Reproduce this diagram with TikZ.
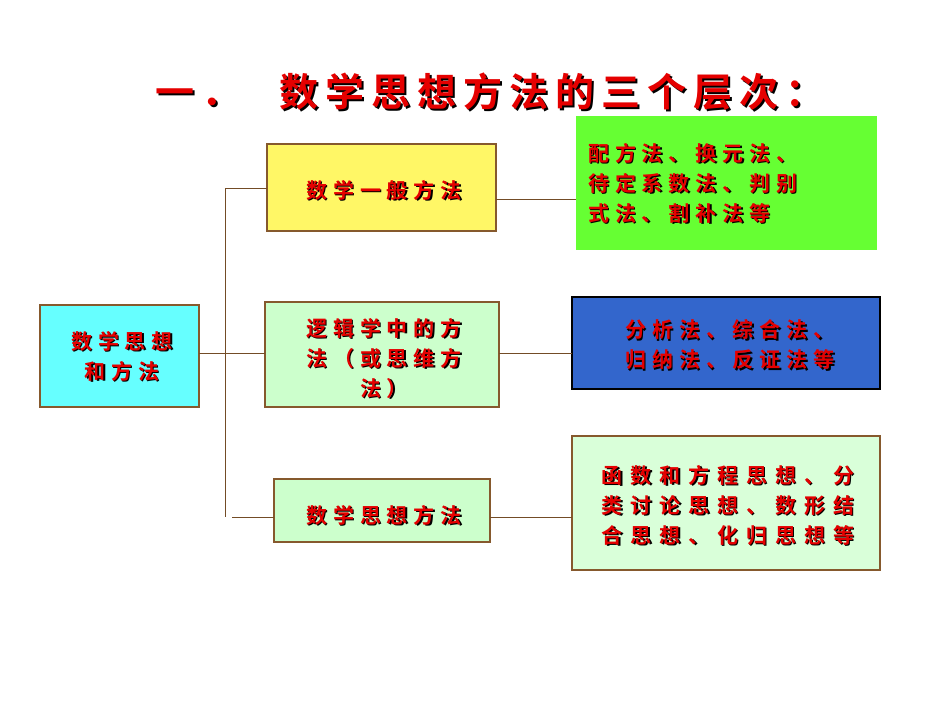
\documentclass[tikz,border=0pt]{standalone}
\usepackage{fontspec}
\newfontfamily\cjk[LetterSpace=28]{Noto Sans CJK SC Bold}
\newfontfamily\cjkr[LetterSpace=38]{Noto Sans CJK SC Bold}
\newfontfamily\cjkt[LetterSpace=18]{Noto Sans CJK SC Bold}
\tikzset{
 box/.style={draw=brown!70!black, line width=1.2pt},
 conn/.style={draw=brown!60!black, line width=1pt},
 lbl/.style={font=\cjk\fontsize{21}{30}\selectfont, align=center, inner sep=0pt},
}
\newcommand\stxt[5][center]{%
 \node[lbl, align=#1, text=black, anchor=#2] at ([shift={(1.5,1.5)}]#3) {#5};
 \node[lbl, align=#1, text=red!90!black, anchor=#2] (#4) at (#3) {#5};}
\begin{document}
\begin{tikzpicture}[x=1pt,y=-1pt]
\useasboundingbox (0,0) rectangle (950,713);
\fill[white] (0,0) rectangle (950,713);
% boxes
\draw[box, fill={rgb,255:red,102;green,255;blue,255}] (40,305) rectangle (199,407);
\coordinate (L) at (122,356);
\draw[box, fill=yellow!60] (267,144) rectangle (496,231);
\coordinate (A) at (384,190);
\draw[box, fill=green!20] (265,302) rectangle (499,407);
\coordinate (B) at (384,358);
\draw[box, fill=green!20] (274,479) rectangle (490,542);
\coordinate (C) at (384,515);
\draw[box, draw=none, fill={rgb,255:red,102;green,255;blue,51}] (576,116) rectangle (877,250);
\coordinate (R1) at (588,183);
\draw[box, draw=black, fill={rgb,255:red,51;green,102;blue,204}] (572,297) rectangle (880,389);
\coordinate (R2) at (730,345);
\draw[box, fill=green!15] (572,436) rectangle (880,570);
\coordinate (R3) at (728,505);
% connectors
\coordinate (v1) at (225,188); \coordinate (v3) at (225,517);
\coordinate (Lr) at (199,353);
\draw[conn] (v1) -- (v3);
\draw[conn] (Lr) -- (265,353);
\draw[conn] (v1) -- (267,188);
\draw[conn] (232,517) -- (274,517);
\draw[conn] (496,199) -- (576,199);
\draw[conn] (499,353) -- (572,353);
\draw[conn] (490,517) -- (572,517);
% texts
\node[lbl, text=black, font=\cjkt\fontsize{39}{42}\selectfont] at (492,94) {一．\quad 数学思想方法的三个层次：};
\node[lbl, text=red!90!black, font=\cjkt\fontsize{39}{42}\selectfont] (T) at (490,92) {一．\quad 数学思想方法的三个层次：};
\stxt{center}{L}{tL}{数学思想\\和方法}
\stxt{center}{A}{tA}{数学一般方法}
\stxt{center}{B}{tB}{逻辑学中的方\\法（或思维方\\法）}
\stxt{center}{C}{tC}{数学思想方法}
\stxt[left]{west}{R1}{tR1}{配方法、换元法、\\待定系数法、判别\\式法、割补法等}
\stxt{center}{R2}{tR2}{分析法、综合法、\\归纳法、反证法等}
\stxt{center}{R3}{tR3}{\cjkr 函数和方程思想、分\\\cjkr 类讨论思想、数形结\\\cjkr 合思想、化归思想等}
\end{tikzpicture}
\end{document}
